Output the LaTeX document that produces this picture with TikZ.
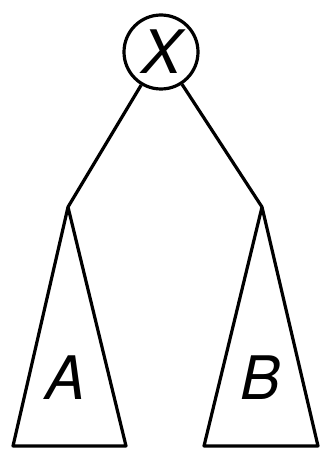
\documentclass[tikz,border=0pt]{standalone}
\usepackage{fontspec}
\setmainfont{TeX Gyre Heros}
\begin{document}
\begin{tikzpicture}[x=1pt,y=-1pt,
  edge/.style={line width=3.2pt, line join=round},
  lbl/.style={font=\fontsize{60}{60}\selectfont\itshape, inner sep=0pt}]
\useasboundingbox (0,0) rectangle (320,449);
\node[circle, draw, line width=3.2pt, minimum size=74pt, inner sep=0pt] (x) at (161,52) {};
\node[lbl] (xl) at (162,52) {X};
\coordinate (la) at (68,207);
\coordinate (ra) at (262,207);
\coordinate (lb1) at (13,446);
\coordinate (lb2) at (126,446);
\coordinate (rb1) at (204,446);
\coordinate (rb2) at (318,446);
\draw[edge] (x) -- (la);
\draw[edge] (x) -- (ra);
\draw[edge] (la) -- (lb1) -- (lb2) -- cycle;
\draw[edge] (ra) -- (rb1) -- (rb2) -- cycle;
\node[lbl] (a) at (66,378) {A};
\node[lbl] (b) at (261,378) {B};
\end{tikzpicture}
\end{document}
